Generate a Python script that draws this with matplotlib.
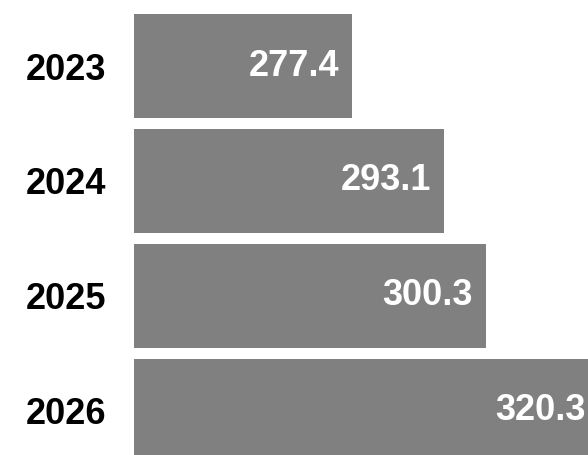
import matplotlib
matplotlib.use("Agg")
import matplotlib.pyplot as plt

years = ["2023", "2024", "2025", "2026"]
values = [277.4, 293.1, 300.3, 320.3]

plt.rcParams['font.family'] = ['Liberation Sans', 'DejaVu Sans']

fig = plt.figure(figsize=(5.88, 4.55), dpi=100)
ax = fig.add_axes([134 / 588, 0, 454 / 588, 1])

pos = list(range(len(years)))
ax.barh(pos, values, height=0.9, color='#808080', left=0)
xmin, xmax = 240.1, 317.7
ax.set_xlim(xmin, xmax)
ax.set_ylim(3.383, -0.574)

for p, v in zip(pos, values):
    # keep the label inside the figure when the bar runs past the edge
    x = min(v, xmax + 1.9)
    ax.annotate(f"{v:.1f}", xy=(x, p), xytext=(-9.5, 0), textcoords='offset points',
                ha='right', va='center', color='white', fontsize=26, fontweight='bold',
                annotation_clip=False)

ax.set_yticks(pos)
ax.set_yticklabels(years, fontsize=26, fontweight='bold')
ax.tick_params(axis='y', length=0, pad=20)
ax.set_xticks([])
for s in ax.spines.values():
    s.set_visible(False)

fig.savefig("out.png", dpi=100)
